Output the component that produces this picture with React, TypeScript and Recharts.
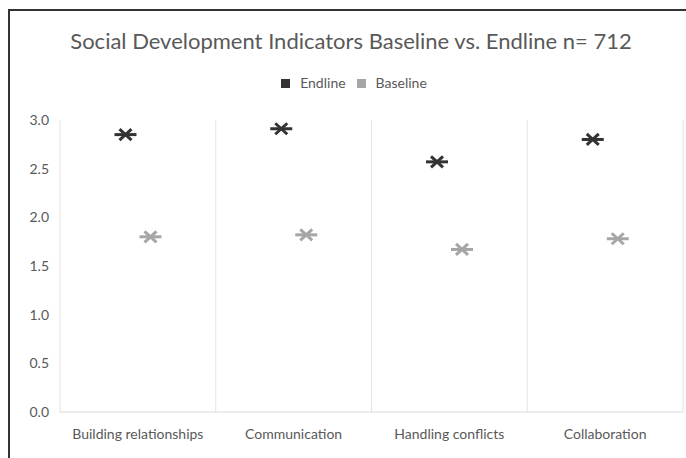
import React from 'react';
import { BarChart, Bar, XAxis, YAxis, CartesianGrid, Legend } from 'recharts';

// Indicator categories and mean scores for each survey round
const categories = ['Building relationships', 'Communication', 'Handling conflicts', 'Collaboration'];
const endline = [2.85, 2.91, 2.57, 2.8];
const baseline = [1.8, 1.82, 1.67, 1.78];
const yTicks = [0, 0.5, 1.0, 1.5, 2.0, 2.5, 3.0];

const data = categories.map((name, i) => ({ name, Endline: endline[i], Baseline: baseline[i] }));

const FONT = 'Lato, "Open Sans", sans-serif';
const TEXT = '#595959';

// Asterisk-style marker drawn at the top of each (invisible) bar
const StarMarker = (props: any) => {
  const { x, y, width, fill } = props;
  if (x == null || y == null) return null;
  const cx = x + width / 2;
  const cy = y;
  const h = 11;
  const dx = 6;
  const dy = 5.5;
  return (
    <g stroke={fill} strokeWidth={3} strokeLinecap="butt">
      <line x1={cx - h} y1={cy} x2={cx + h} y2={cy} />
      <line x1={cx - dx} y1={cy - dy} x2={cx + dx} y2={cy + dy} />
      <line x1={cx - dx} y1={cy + dy} x2={cx + dx} y2={cy - dy} />
    </g>
  );
};

// Legend row: square swatch followed by the series name
const LegendRow = (props: any) => {
  const { payload = [] } = props;
  return (
    <div
      style={{
        display: 'flex',
        justifyContent: 'center',
        alignItems: 'center',
        paddingLeft: 12,
        fontFamily: FONT,
        fontSize: 14,
        color: TEXT,
        lineHeight: '18px',
      }}
    >
      {payload.map((entry: any, i: number) => (
        <div key={entry.value} style={{ display: 'flex', alignItems: 'center', marginLeft: i === 0 ? 0 : 11 }}>
          <span style={{ display: 'inline-block', width: 9, height: 9, background: entry.color, marginRight: 10 }} />
          <span>{entry.value}</span>
        </div>
      ))}
    </div>
  );
};

const CHART_W = 676;
const CHART_H = 447;

export default function App() {
  return (
    <div
      style={{
        position: 'absolute',
        left: 8,
        top: 9,
        width: 678,
        height: 449,
        boxSizing: 'border-box',
        borderLeft: '2px solid #333',
        borderTop: '2px solid #333',
        background: '#fff',
        overflow: 'hidden',
      }}
    >
      <div
        style={{
          position: 'absolute',
          left: 0,
          top: 17,
          width: CHART_W,
          paddingLeft: 6,
          boxSizing: 'border-box',
          textAlign: 'center',
          fontFamily: FONT,
          fontSize: 22,
          color: TEXT,
          lineHeight: '26px',
        }}
      >
        Social Development Indicators Baseline vs. Endline n= 712
      </div>
      <BarChart
        width={CHART_W}
        height={CHART_H}
        data={data}
        margin={{ top: 91, right: 3, bottom: 0, left: 0 }}
        barSize={25}
        barGap={0}
      >
        <CartesianGrid
          horizontal={false}
          stroke="#e3e3e3"
          verticalCoordinatesGenerator={({ offset }: any) =>
            [0, 1, 2, 3, 4].map((i) => offset.left + (i * offset.width) / categories.length)
          }
        />
        <XAxis
          dataKey="name"
          axisLine={{ stroke: '#d9d9d9' }}
          tickLine={false}
          tickMargin={11}
          height={46}
          interval={0}
          tick={{ fill: TEXT, fontSize: 14, fontFamily: FONT }}
        />
        <YAxis
          domain={[0, 3]}
          ticks={yTicks}
          width={50}
          axisLine={false}
          tickLine={false}
          tickMargin={5}
          tickFormatter={(v: number) => v.toFixed(1)}
          tick={{ fill: TEXT, fontSize: 14, fontFamily: FONT }}
        />
        <Legend
          verticalAlign="top"
          align="center"
          itemSorter={null as any}
          content={LegendRow}
          wrapperStyle={{ top: 63, left: 0, width: CHART_W }}
        />
        <Bar dataKey="Endline" fill="#333333" shape={StarMarker} isAnimationActive={false} />
        <Bar dataKey="Baseline" fill="#a6a6a6" shape={StarMarker} isAnimationActive={false} />
      </BarChart>
    </div>
  );
}
